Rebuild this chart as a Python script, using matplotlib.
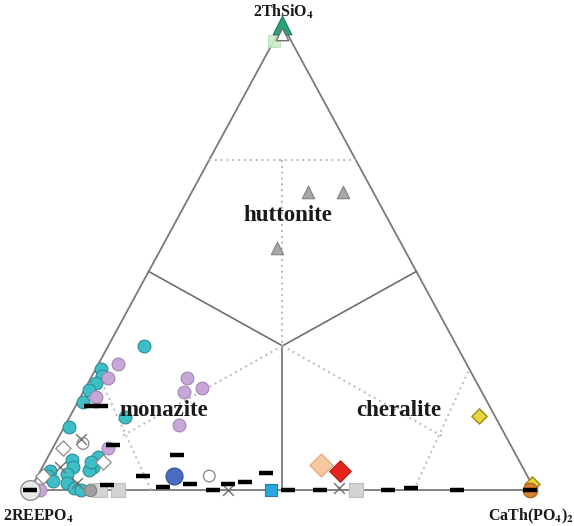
import matplotlib.pyplot as plt
import numpy as np

plt.rcParams['mathtext.fontset'] = 'stix'

# ternary compositions as (2ThSiO4 fraction, CaTh(PO4)2 fraction); 2REEPO4 = remainder
apex_green = [(1.00, 0.00)]
apex_open = [(0.98, 0.01)]
apex_light = [(0.965, 0.0)]

huttonite_pts = [(0.64, 0.23), (0.64, 0.30), (0.52, 0.23)]

teal_pts = [(0.31, 0.07), (0.26, 0.01), (0.245, 0.02), (0.23, 0.015), (0.215, 0.01),
            (0.19, 0.01), (0.157, 0.11), (0.135, 0.01), (0.07, 0.10), (0.05, 0.10),
            (0.043, 0.095), (0.065, 0.05), (0.05, 0.06), (0.04, 0.02), (0.03, 0.02),
            (0.035, 0.055), (0.015, 0.065), (0.004, 0.085), (0.0, 0.10), (0.02, 0.035),
            (0.06, 0.09)]
purple_pts = [(0.27, 0.04), (0.24, 0.035), (0.20, 0.03), (0.24, 0.19), (0.21, 0.20),
              (0.22, 0.23), (0.14, 0.225), (0.09, 0.11), (0.0, 0.02)]
open_diamond_pts = [(0.09, 0.02), (0.06, 0.115), (0.03, 0.01)]
cross_pts = [(0.11, 0.045), (0.05, 0.035), (0.015, 0.085), (0.0, 0.392), (0.004, 0.61)]
open_circle_pts = [(0.10, 0.055), (0.03, 0.34), (0.0, 0.0)]
grey_square_pts = [(0.0, 0.174), (0.0, 0.139), (0.0, 0.645)]
grey_circle_pts = [(0.0, 0.119)]
blue_circle_pts = [(0.03, 0.27)]
sky_square_pts = [(0.0, 0.477)]
peach_diamond_pts = [(0.054, 0.55)]
red_diamond_pts = [(0.041, 0.594)]
yellow_diamond_pts = [(0.16, 0.81), (0.013, 0.988)]
orange_circle_pts = [(0.0, 0.99)]
dash_pts = [(0.037, 0.449), (0.0, 0.511), (0.0, 0.574), (0.0, 0.709), (0.004, 0.752),
            (0.0, 0.846), (0.0, 0.99), (0.0, 0.362), (0.013, 0.386), (0.017, 0.417),
            (0.006, 0.26), (0.012, 0.31), (0.03, 0.209), (0.075, 0.253), (0.01, 0.147),
            (0.0, 0.0), (0.18, 0.03), (0.18, 0.05), (0.097, 0.116)]

# field boundaries, in the same ternary coordinates
centre = (0.31, 0.345)
solid_lines = [[(0.47, 0.0), centre], [(0.47, 0.53), centre], [(0.0, 0.5), centre]]
dotted_lines = [[(0.71, 0.0), (0.71, 0.29)],
                [(0.71, 0.145), centre],
                [centre, (0.116, 0.124)], [(0.0, 0.24), (0.26, 0.0)],
                [centre, (0.115, 0.76)], [(0.0, 0.76), (0.26, 0.74)]]

H = 465 / 505


def to_xy(pts):
    arr = np.array(pts, dtype=float)
    th, ca = arr[:, 0], arr[:, 1]
    return ca + th / 2, th * H


fig = plt.figure(figsize=(5.74, 5.26), dpi=100)
ax = fig.add_axes([0, 0, 1, 1])
ax.set_xlim(-30 / 505, 544 / 505)
ax.set_ylim(-36 / 505, 490 / 505)
ax.axis('off')

outline = [(0, 0), (0, 1), (1, 0), (0, 0)]
x, y = to_xy(outline)
ax.plot(x, y, color='#7a7a7a', lw=1.3, zorder=1)
for seg in solid_lines:
    x, y = to_xy(seg)
    ax.plot(x, y, color='#6e6e6e', lw=1.2, zorder=1)
for seg in dotted_lines:
    x, y = to_xy(seg)
    ax.plot(x, y, color='#b8b8b8', lw=1.4, ls=(0, (1, 2)), zorder=1)


def scatter(pts, **kw):
    x, y = to_xy(pts)
    ax.scatter(x, y, zorder=3, **kw)


scatter(teal_pts, s=85, c='#3ebfc7', edgecolors='#2b8c96', linewidths=0.8)
scatter(purple_pts, s=85, c='#c6a7d8', edgecolors='#a585b8', linewidths=0.8)
scatter(huttonite_pts, s=80, marker='^', c='#a8a8a8', edgecolors='#808080', linewidths=0.8)
scatter(open_diamond_pts, s=60, marker='D', c='white', edgecolors='#8a8a8a', linewidths=0.9)
scatter(cross_pts, s=60, marker='x', c='#707070', linewidths=1.0)
scatter(open_circle_pts[:2], s=70, facecolors='none', edgecolors='#909090', linewidths=1.0)
scatter(open_circle_pts[2:], s=200, facecolors='#e8e8e8', edgecolors='#909090', linewidths=1.0)
scatter(grey_square_pts, s=110, marker='s', c='#d4d4d4', edgecolors='#bdbdbd', linewidths=0.8)
scatter(grey_circle_pts, s=80, c='#a0a0a0', edgecolors='#808080', linewidths=0.8)
scatter(blue_circle_pts, s=150, c='#4a6cc0', edgecolors='#34509a', linewidths=0.8)
scatter(sky_square_pts, s=80, marker='s', c='#2aa8e0', edgecolors='#1b7fb0', linewidths=0.8)
scatter(peach_diamond_pts, s=140, marker='D', c='#f6c8a2', edgecolors='#e2a77c', linewidths=0.8)
scatter(red_diamond_pts, s=120, marker='D', c='#e5251c', edgecolors='#b81a12', linewidths=0.8)
scatter(yellow_diamond_pts, s=60, marker='D', c='#e8d63c', edgecolors='#9a8a1a', linewidths=1.0)
scatter(orange_circle_pts, s=110, c='#d9822b', edgecolors='#a4601a', linewidths=0.8)
scatter(apex_light, s=70, marker='s', c='#c8ebc8', edgecolors='#b0dcb2', linewidths=0.6, alpha=0.9)
scatter(apex_green, s=180, marker='^', c='#2aa07c', edgecolors='#1c7a5c', linewidths=0.8)
scatter(apex_open, s=80, marker='^', c='white', edgecolors='#707070', linewidths=1.0)

x, y = to_xy(dash_pts)
ax.plot(x, y, ls='none', marker='_', ms=10, mew=3.2, color='black', zorder=4)

label_font = dict(family='Liberation Serif', weight='bold', color='#1a1a1a')
for name, pt in [('huttonite', (0.59, 0.215)), ('monazite', (0.17, 0.18)),
                 ('cheralite', (0.17, 0.645))]:
    x, y = to_xy([pt])
    ax.text(x[0], y[0], name, fontsize=16.5, ha='center', va='center', zorder=5, **label_font)

ax.text(0.501, 478 / 505, r'2ThSiO$_\mathbf{4}$', fontsize=11.5, ha='center', va='center', **label_font)
ax.text(8 / 505, -26 / 505, r'2REEPO$_\mathbf{4}$', fontsize=11.5, ha='center', va='center', **label_font)
ax.text(501 / 505, -26 / 505, r'CaTh(PO$_\mathbf{4}$)$_\mathbf{2}$', fontsize=11.5,
        ha='center', va='center', **label_font)

fig.savefig('out.png', dpi=100)
